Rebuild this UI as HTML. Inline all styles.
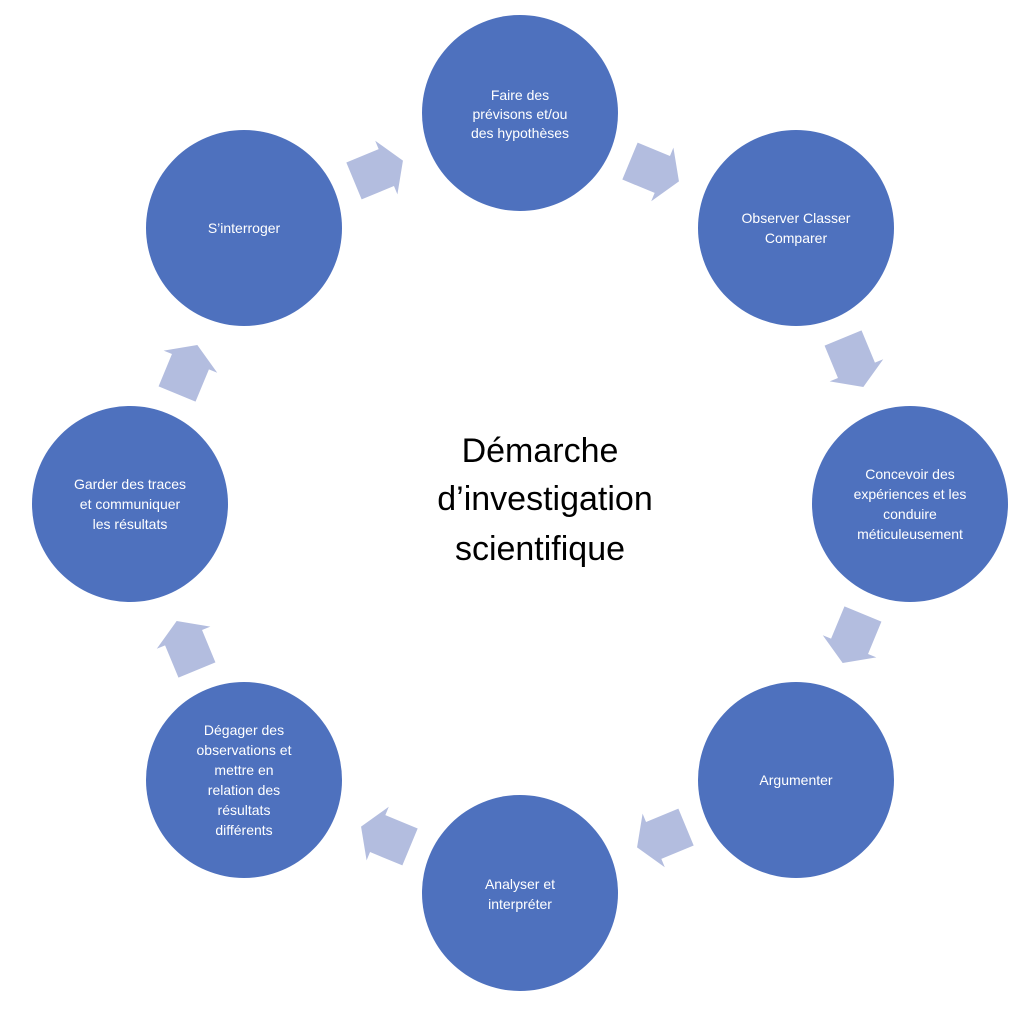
<!DOCTYPE html>
<html><head><meta charset="utf-8"><style>
html,body{margin:0;padding:0;background:#fff;}
svg{display:block;}
.c{fill:#4e71be;}
.t{fill:#fff;font-family:"Liberation Sans",sans-serif;font-size:14px;text-anchor:middle;}
.m{fill:#000;font-family:"Liberation Sans",sans-serif;font-size:34px;text-anchor:middle;}
.a{fill:#b3bddf;}
</style></head><body>
<svg width="1024" height="1010" viewBox="0 0 1024 1010" xmlns="http://www.w3.org/2000/svg">
<defs><path id="ar" d="M-26,-20 L9,-20 L9,-29 L27,0 L9,29 L9,20 L-26,20 Z"/></defs>
<circle class="c" cx="520" cy="113" r="98"/>
<circle class="c" cx="796" cy="228" r="98"/>
<circle class="c" cx="910" cy="504" r="98"/>
<circle class="c" cx="796" cy="780" r="98"/>
<circle class="c" cx="520" cy="893" r="98"/>
<circle class="c" cx="244" cy="780" r="98"/>
<circle class="c" cx="130" cy="504" r="98"/>
<circle class="c" cx="244" cy="228" r="98"/>
<use href="#ar" class="a" transform="translate(378,171) rotate(-22.5)"/>
<use href="#ar" class="a" transform="translate(654,171) rotate(22.5)"/>
<use href="#ar" class="a" transform="translate(853,362) rotate(67.5)"/>
<use href="#ar" class="a" transform="translate(853,638) rotate(112.5)"/>
<use href="#ar" class="a" transform="translate(662,837) rotate(157.5)"/>
<use href="#ar" class="a" transform="translate(386,837) rotate(202.5)"/>
<use href="#ar" class="a" transform="translate(187,646) rotate(247.5)"/>
<use href="#ar" class="a" transform="translate(187,370) rotate(292.5)"/>
<text class="t" x="520" y="100">Faire des</text>
<text class="t" x="520" y="119">prévisons et/ou</text>
<text class="t" x="520" y="138">des hypothèses</text>
<text class="t" x="796" y="223">Observer Classer</text>
<text class="t" x="796" y="243">Comparer</text>
<text class="t" x="910" y="479">Concevoir des</text>
<text class="t" x="910" y="499">expériences et les</text>
<text class="t" x="910" y="519">conduire</text>
<text class="t" x="910" y="539">méticuleusement</text>
<text class="t" x="796" y="785">Argumenter</text>
<text class="t" x="520" y="889">Analyser et</text>
<text class="t" x="520" y="909">interpréter</text>
<text class="t" x="244" y="735">Dégager des</text>
<text class="t" x="244" y="755">observations et</text>
<text class="t" x="244" y="775">mettre en</text>
<text class="t" x="244" y="795">relation des</text>
<text class="t" x="244" y="815">résultats</text>
<text class="t" x="244" y="835">différents</text>
<text class="t" x="130" y="489">Garder des traces</text>
<text class="t" x="130" y="509">et communiquer</text>
<text class="t" x="130" y="529">les résultats</text>
<text class="t" x="244" y="233">S’interroger</text>
<text class="m" x="540" y="462">Démarche</text>
<text class="m" x="545" y="510">d’investigation</text>
<text class="m" x="540" y="560">scientifique</text>
</svg>
</body></html>
